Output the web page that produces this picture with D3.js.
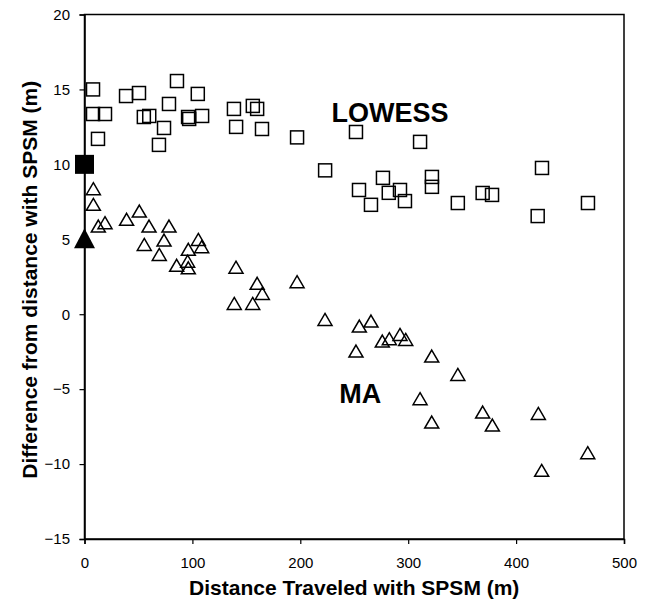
<!DOCTYPE html>
<html><head><meta charset="utf-8">
<script src="https://cdn.jsdelivr.net/npm/d3@7"></script>
<style>
body{margin:0;background:#fff}
svg{display:block}
text{font-family:"Liberation Sans",Arial,Helvetica,sans-serif;fill:#000}
</style>
</head><body><div id="chart"></div>
<script>
// LOWESS series (open squares)
const lowessX = [7.9,7.9,12.5,19,38.5,50.5,55,60,69,73.7,78.3,85.7,96,97,105,109,138.5,140.5,156,160,164.5,197,223,251.6,254.4,265.5,276.6,282,292.4,297,311,322,322,346,369,377.7,420,424,466.6];
const lowessY = [15.0,13.36,11.7,13.36,14.56,14.76,13.16,13.23,11.3,12.43,14.03,15.56,13.16,13.03,14.7,13.23,13.7,12.5,13.9,13.7,12.36,11.8,9.6,12.16,8.29,7.3,9.1,8.1,8.29,7.55,11.5,9.16,8.5,7.42,8.09,7.96,6.55,9.76,7.42];
// MA series (open triangles)
const maX = [8.2,8.2,12.8,19,39,50.8,55.4,59.8,69.3,73.7,78.3,85.4,95.6,96.2,96.2,105.5,108.6,138.8,140.4,155.9,160,164.8,197,222.9,251.6,254.7,265.5,276,282.5,292.4,297.7,311,321.8,321.8,346,369,378,420.6,423.7,466.4];
const maY = [8.34,7.29,5.84,6.07,6.29,6.84,4.62,5.84,3.95,4.91,5.84,3.22,3.5,4.29,3.06,4.95,4.47,0.68,3.1,0.68,2.02,1.35,2.13,-0.39,-2.5,-0.83,-0.5,-1.83,-1.67,-1.39,-1.72,-5.68,-2.83,-7.24,-4.06,-6.57,-7.44,-6.66,-10.46,-9.28];
// Filled reference markers at x = 0
const refX = [0];
const refLowessY = [10];
const refMaY = [5];
const xTicks = [0,100,200,300,400,500];
const yTicks = [-15,-10,-5,0,5,10,15,20];
const seriesLabels = ["LOWESS","MA"];
const labelX = [229,236];
const labelY = [12.85,-5.9];
const xTitle = "Distance Traveled with SPSM (m)";
const yTitle = "Difference from distance with SPSM (m)";

const W = 648, H = 606;
const m = {left:84.5, top:14.5, right:24, bottom:67};
const iw = W - m.left - m.right, ih = H - m.top - m.bottom;

const svg = d3.select("#chart").append("svg").attr("width",W).attr("height",H);
const g = svg.append("g").attr("transform",`translate(${m.left},${m.top})`);

const x = d3.scaleLinear().domain([0,500]).range([0,iw]);
const y = d3.scaleLinear().domain([-15,20]).range([ih,0]);

// frame
g.append("rect").attr("x",0).attr("y",0).attr("width",iw).attr("height",ih)
  .attr("fill","none").attr("stroke","#000").attr("stroke-width",1.5);

const xAxis = g.append("g").attr("transform",`translate(0,${ih})`)
  .call(d3.axisBottom(x).tickValues(xTicks).tickSize(5).tickPadding(13).tickFormat(d3.format("d")));
const yAxis = g.append("g")
  .call(d3.axisLeft(y).tickValues(yTicks).tickSize(5).tickPadding(9.5).tickFormat(d3.format("d")));
[xAxis,yAxis].forEach(a=>{
  a.select(".domain").attr("stroke","#000").attr("stroke-width",1.5);
  a.selectAll(".tick line").attr("stroke","#000").attr("stroke-width",1.2);
  a.selectAll(".tick text").attr("font-size",15).attr("font-family","Liberation Sans, Arial, sans-serif").attr("fill","#000");
});

const sq = 13;
const lowess = lowessX.map((v,i)=>({x:v,y:lowessY[i]}));
const ma = maX.map((v,i)=>({x:v,y:maY[i]}));

g.append("g").selectAll("rect").data(lowess).join("rect")
  .attr("x",d=>x(d.x)-sq/2).attr("y",d=>y(d.y)-sq/2)
  .attr("width",sq).attr("height",sq)
  .attr("fill","none").attr("stroke","#000").attr("stroke-width",1.5);

const tri = (w,h)=>`M0,${-h*0.55}L${w/2},${h*0.45}L${-w/2},${h*0.45}Z`;
g.append("g").selectAll("path").data(ma).join("path")
  .attr("transform",d=>`translate(${x(d.x)},${y(d.y)})`)
  .attr("d",tri(14,12))
  .attr("fill","none").attr("stroke","#000").attr("stroke-width",1.5);

// filled reference markers
const bs = 19;
g.append("g").selectAll("rect").data(refX.map((v,i)=>({x:v,y:refLowessY[i]}))).join("rect")
  .attr("x",d=>x(d.x)-bs/2).attr("y",d=>y(d.y)-bs/2)
  .attr("width",bs).attr("height",bs).attr("fill","#000");
g.append("g").selectAll("path").data(refX.map((v,i)=>({x:v,y:refMaY[i]}))).join("path")
  .attr("transform",d=>`translate(${x(d.x)},${y(d.y)})`)
  .attr("d",tri(21,20)).attr("fill","#000");

// series labels
seriesLabels.forEach((t,i)=>{
  g.append("text").attr("x",x(labelX[i])).attr("y",y(labelY[i]))
    .attr("font-size",27).attr("font-weight","bold").text(t);
});

// axis titles
svg.append("text").attr("x",m.left+iw/2).attr("y",595).attr("text-anchor","middle")
  .attr("font-size",21).attr("font-weight","bold").text(xTitle);
svg.append("text").attr("transform",`translate(37,${m.top+ih/2+3}) rotate(-90)`).attr("text-anchor","middle")
  .attr("font-size",21).attr("font-weight","bold").text(yTitle);
</script>
</body></html>
